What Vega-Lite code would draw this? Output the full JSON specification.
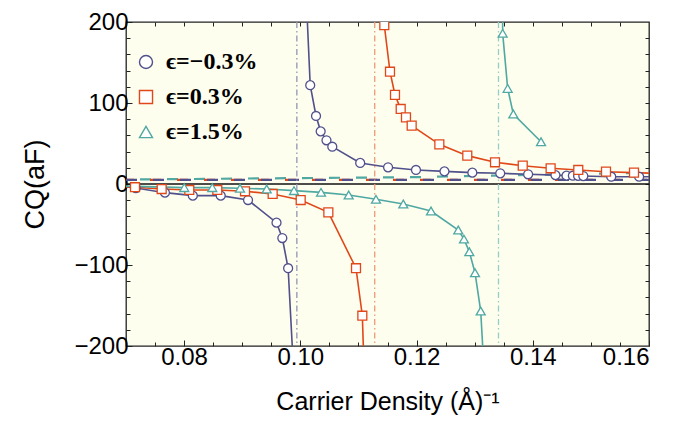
{
  "$schema": "https://vega.github.io/schema/vega-lite/v6.json",
  "width": 523,
  "height": 324,
  "autosize": {"type": "none"},
  "padding": {"left": 126, "top": 22, "right": 30, "bottom": 77},
  "background": "white",
  "config": {
    "view": {"fill": "#FEFEEE", "stroke": "#222222", "strokeWidth": 1.3},
    "axis": {
      "labelFont": "Liberation Sans", "titleFont": "Liberation Sans",
      "labelFontSize": 24, "titleFontSize": 24, "labelColor": "black", "titleColor": "black",
      "titleFontWeight": "normal", "domain": false, "grid": false,
      "tickColor": "#222222", "tickWidth": 1
    },
    "legend": {
      "labelFont": "Liberation Serif", "labelFontSize": 24, "labelFontWeight": "bold", "labelColor": "black",
      "symbolSize": 170, "symbolStrokeWidth": 1.4, "symbolFillColor": "white",
      "rowPadding": 11, "labelOffset": 8,
      "titleFontSize": 10, "titlePadding": 10
    }
  },
  "datasets": {
    "curves": [
      {"series": "ϵ=−0.3%", "branch": "pu", "x": 0.1009, "y": 250},
      {"series": "ϵ=−0.3%", "branch": "pu", "x": 0.1017, "y": 122},
      {"series": "ϵ=−0.3%", "branch": "pu", "x": 0.1027, "y": 84},
      {"series": "ϵ=−0.3%", "branch": "pu", "x": 0.1035, "y": 65},
      {"series": "ϵ=−0.3%", "branch": "pu", "x": 0.1045, "y": 54},
      {"series": "ϵ=−0.3%", "branch": "pu", "x": 0.1055, "y": 46},
      {"series": "ϵ=−0.3%", "branch": "pu", "x": 0.1103, "y": 26},
      {"series": "ϵ=−0.3%", "branch": "pu", "x": 0.1151, "y": 20.6},
      {"series": "ϵ=−0.3%", "branch": "pu", "x": 0.1199, "y": 17.3},
      {"series": "ϵ=−0.3%", "branch": "pu", "x": 0.1248, "y": 15.6},
      {"series": "ϵ=−0.3%", "branch": "pu", "x": 0.1296, "y": 14},
      {"series": "ϵ=−0.3%", "branch": "pu", "x": 0.1344, "y": 13.2},
      {"series": "ϵ=−0.3%", "branch": "pu", "x": 0.1392, "y": 12},
      {"series": "ϵ=−0.3%", "branch": "pu", "x": 0.1439, "y": 11},
      {"series": "ϵ=−0.3%", "branch": "pu", "x": 0.1458, "y": 10.3},
      {"series": "ϵ=−0.3%", "branch": "pu", "x": 0.1469, "y": 10.2},
      {"series": "ϵ=−0.3%", "branch": "pu", "x": 0.1478, "y": 10},
      {"series": "ϵ=−0.3%", "branch": "pu", "x": 0.1487, "y": 9.8},
      {"series": "ϵ=−0.3%", "branch": "pu", "x": 0.1535, "y": 9},
      {"series": "ϵ=−0.3%", "branch": "pu", "x": 0.1583, "y": 9},
      {"series": "ϵ=−0.3%", "branch": "pu", "x": 0.1631, "y": 8.6},
      {"series": "ϵ=−0.3%", "branch": "pl", "x": 0.0669, "y": -1},
      {"series": "ϵ=−0.3%", "branch": "pl", "x": 0.0717, "y": -5},
      {"series": "ϵ=−0.3%", "branch": "pl", "x": 0.0767, "y": -10.7},
      {"series": "ϵ=−0.3%", "branch": "pl", "x": 0.0815, "y": -14.4},
      {"series": "ϵ=−0.3%", "branch": "pl", "x": 0.0863, "y": -14.4},
      {"series": "ϵ=−0.3%", "branch": "pl", "x": 0.0910, "y": -19.8},
      {"series": "ϵ=−0.3%", "branch": "pl", "x": 0.0959, "y": -47.7},
      {"series": "ϵ=−0.3%", "branch": "pl", "x": 0.0969, "y": -66.7},
      {"series": "ϵ=−0.3%", "branch": "pl", "x": 0.0979, "y": -104},
      {"series": "ϵ=−0.3%", "branch": "pl", "x": 0.0992, "y": -280},
      {"series": "ϵ=0.3%", "branch": "ou", "x": 0.1136, "y": 260},
      {"series": "ϵ=0.3%", "branch": "ou", "x": 0.11445, "y": 196},
      {"series": "ϵ=0.3%", "branch": "ou", "x": 0.11543, "y": 138.6},
      {"series": "ϵ=0.3%", "branch": "ou", "x": 0.11629, "y": 110},
      {"series": "ϵ=0.3%", "branch": "ou", "x": 0.11727, "y": 92.6},
      {"series": "ϵ=0.3%", "branch": "ou", "x": 0.11818, "y": 82.3},
      {"series": "ϵ=0.3%", "branch": "ou", "x": 0.11916, "y": 72},
      {"series": "ϵ=0.3%", "branch": "ou", "x": 0.12392, "y": 49},
      {"series": "ϵ=0.3%", "branch": "ou", "x": 0.12873, "y": 35},
      {"series": "ϵ=0.3%", "branch": "ou", "x": 0.1335, "y": 26.8},
      {"series": "ϵ=0.3%", "branch": "ou", "x": 0.13827, "y": 22.6},
      {"series": "ϵ=0.3%", "branch": "ou", "x": 0.14307, "y": 19.4},
      {"series": "ϵ=0.3%", "branch": "ou", "x": 0.14783, "y": 17.3},
      {"series": "ϵ=0.3%", "branch": "ou", "x": 0.1526, "y": 15.2},
      {"series": "ϵ=0.3%", "branch": "ou", "x": 0.15742, "y": 14},
      {"series": "ϵ=0.3%", "branch": "ou", "x": 0.1622, "y": 13},
      {"series": "ϵ=0.3%", "branch": "ol", "x": 0.0668, "y": -2},
      {"series": "ϵ=0.3%", "branch": "ol", "x": 0.07155, "y": -4},
      {"series": "ϵ=0.3%", "branch": "ol", "x": 0.07614, "y": -6.2},
      {"series": "ϵ=0.3%", "branch": "ol", "x": 0.08089, "y": -7.4},
      {"series": "ϵ=0.3%", "branch": "ol", "x": 0.08571, "y": -7.4},
      {"series": "ϵ=0.3%", "branch": "ol", "x": 0.09048, "y": -9},
      {"series": "ϵ=0.3%", "branch": "ol", "x": 0.09524, "y": -12.3},
      {"series": "ϵ=0.3%", "branch": "ol", "x": 0.10006, "y": -19.8},
      {"series": "ϵ=0.3%", "branch": "ol", "x": 0.10482, "y": -35},
      {"series": "ϵ=0.3%", "branch": "ol", "x": 0.10958, "y": -104},
      {"series": "ϵ=0.3%", "branch": "ol", "x": 0.11067, "y": -162.6},
      {"series": "ϵ=0.3%", "branch": "ol", "x": 0.1112, "y": -280},
      {"series": "ϵ=1.5%", "branch": "tu", "x": 0.1348, "y": 260},
      {"series": "ϵ=1.5%", "branch": "tu", "x": 0.13482, "y": 186},
      {"series": "ϵ=1.5%", "branch": "tu", "x": 0.13568, "y": 118},
      {"series": "ϵ=1.5%", "branch": "tu", "x": 0.13665, "y": 86.4},
      {"series": "ϵ=1.5%", "branch": "tu", "x": 0.14142, "y": 52.2},
      {"series": "ϵ=1.5%", "branch": "tl", "x": 0.0668, "y": -2},
      {"series": "ϵ=1.5%", "branch": "tl", "x": 0.08003, "y": -4.5},
      {"series": "ϵ=1.5%", "branch": "tl", "x": 0.08485, "y": -4.5},
      {"series": "ϵ=1.5%", "branch": "tl", "x": 0.08962, "y": -5.3},
      {"series": "ϵ=1.5%", "branch": "tl", "x": 0.09421, "y": -6.2},
      {"series": "ϵ=1.5%", "branch": "tl", "x": 0.09891, "y": -8.2},
      {"series": "ϵ=1.5%", "branch": "tl", "x": 0.10356, "y": -10.3},
      {"series": "ϵ=1.5%", "branch": "tl", "x": 0.10832, "y": -13.6},
      {"series": "ϵ=1.5%", "branch": "tl", "x": 0.11302, "y": -18.9},
      {"series": "ϵ=1.5%", "branch": "tl", "x": 0.11772, "y": -24.7},
      {"series": "ϵ=1.5%", "branch": "tl", "x": 0.12249, "y": -33.3},
      {"series": "ϵ=1.5%", "branch": "tl", "x": 0.12718, "y": -56.8},
      {"series": "ϵ=1.5%", "branch": "tl", "x": 0.12816, "y": -68},
      {"series": "ϵ=1.5%", "branch": "tl", "x": 0.12908, "y": -83.6},
      {"series": "ϵ=1.5%", "branch": "tl", "x": 0.13006, "y": -109.5},
      {"series": "ϵ=1.5%", "branch": "tl", "x": 0.13104, "y": -156.8},
      {"series": "ϵ=1.5%", "branch": "tl", "x": 0.1320, "y": -280}
    ],
    "refs": [
      {"line": "zero", "x": 0.07, "y": 0},
      {"line": "zero", "x": 0.16, "y": 0},
      {"line": "teal", "x": 0.07, "y": 5.5},
      {"line": "teal", "x": 0.12, "y": 8.5},
      {"line": "teal", "x": 0.16, "y": 14},
      {"line": "orange", "x": 0.07, "y": 5},
      {"line": "orange", "x": 0.16, "y": 5},
      {"line": "purple", "x": 0.07, "y": 5},
      {"line": "purple", "x": 0.16, "y": 5}
    ],
    "vlines": [
      {"line": "purple", "xc": 0.0994},
      {"line": "orange", "xc": 0.1128},
      {"line": "teal", "xc": 0.1341}
    ]
  },
  "layer": [
    {
      "data": {"name": "refs"},
      "transform": [{"filter": "datum.line === 'zero'"}],
      "mark": {"type": "line", "color": "#111111", "strokeWidth": 1.3},
      "encoding": {
        "x": {"field": "x", "type": "quantitative",
          "scale": {"domain": [0.07, 0.16], "nice": false, "zero": false},
          "axis": {"orient": "bottom", "values": [0.08, 0.1, 0.12, 0.14, 0.16], "format": ".2f",
            "tickSize": -6, "labelPadding": 5, "title": "Carrier Density (Å)⁻¹", "titleFontSize": 25, "titlePadding": 20}},
        "y": {"field": "y", "type": "quantitative",
          "scale": {"domain": [-200, 200], "nice": false, "zero": false},
          "axis": {"orient": "left", "values": [-200, -100, 0, 100, 200],
            "tickSize": -6, "labelPadding": 4, "title": "CQ(aF)", "titleFontSize": 27, "titlePadding": 24}}
      }
    },
    {
      "data": {"name": "refs"},
      "transform": [{"filter": "datum.line === 'teal'"}],
      "mark": {"type": "line", "color": "#4FA8A2", "strokeWidth": 2.2, "strokeDash": [11, 16], "strokeDashOffset": 13},
      "encoding": {
        "x": {"field": "x", "type": "quantitative",
          "axis": {"orient": "bottom", "values": [0.075, 0.085, 0.09, 0.095, 0.105, 0.11, 0.115, 0.125, 0.13, 0.135, 0.145, 0.15, 0.155],
            "labels": false, "tickSize": -4, "title": null}},
        "y": {"field": "y", "type": "quantitative",
          "axis": {"orient": "left", "values": [-180, -160, -140, -120, -80, -60, -40, -20, 20, 40, 60, 80, 120, 140, 160, 180],
            "labels": false, "tickSize": -4, "title": null}}
      }
    },
    {
      "data": {"name": "refs"},
      "transform": [{"filter": "datum.line === 'orange'"}],
      "mark": {"type": "line", "color": "#E0481A", "strokeWidth": 2.2, "strokeDash": [11, 16], "strokeDashOffset": 3},
      "encoding": {
        "x": {"field": "x", "type": "quantitative",
          "axis": {"orient": "top", "values": [0.075, 0.08, 0.085, 0.09, 0.095, 0.1, 0.105, 0.11, 0.115, 0.12, 0.125, 0.13, 0.135, 0.14, 0.145, 0.15, 0.155],
            "labels": false, "tickSize": -4, "title": null}},
        "y": {"field": "y", "type": "quantitative",
          "axis": {"orient": "right", "values": [-180, -160, -140, -120, -100, -80, -60, -40, -20, 0, 20, 40, 60, 80, 100, 120, 140, 160, 180],
            "labels": false, "tickSize": -4, "title": null}}
      }
    },
    {
      "data": {"name": "refs"},
      "transform": [{"filter": "datum.line === 'purple'"}],
      "mark": {"type": "line", "color": "#50508C", "strokeWidth": 2.2, "strokeDash": [11, 16], "strokeDashOffset": 0},
      "encoding": {
        "x": {"field": "x", "type": "quantitative", "axis": null},
        "y": {"field": "y", "type": "quantitative", "axis": null}
      }
    },
    {
      "data": {"name": "vlines"},
      "transform": [{"filter": "datum.line === 'purple'"}],
      "mark": {"type": "rule", "color": "#9494B6", "strokeWidth": 1.3, "strokeDash": [6, 3, 1.5, 3]},
      "encoding": {"x": {"field": "xc", "type": "quantitative", "axis": null}}
    },
    {
      "data": {"name": "vlines"},
      "transform": [{"filter": "datum.line === 'orange'"}],
      "mark": {"type": "rule", "color": "#EC9A78", "strokeWidth": 1.3, "strokeDash": [6, 3, 1.5, 3]},
      "encoding": {"x": {"field": "xc", "type": "quantitative", "axis": null}}
    },
    {
      "data": {"name": "vlines"},
      "transform": [{"filter": "datum.line === 'teal'"}],
      "mark": {"type": "rule", "color": "#94CEC8", "strokeWidth": 1.3, "strokeDash": [6, 3, 1.5, 3]},
      "encoding": {"x": {"field": "xc", "type": "quantitative", "axis": null}}
    },
    {
      "data": {"name": "curves"},
      "mark": {"type": "line", "strokeWidth": 1.6, "clip": true},
      "encoding": {
        "x": {"field": "x", "type": "quantitative", "axis": null},
        "y": {"field": "y", "type": "quantitative", "axis": null},
        "detail": {"field": "branch"},
        "color": {"field": "series", "type": "nominal",
          "scale": {"domain": ["ϵ=−0.3%", "ϵ=0.3%", "ϵ=1.5%"], "range": ["#50508C", "#E0481A", "#4FA8A2"]}}
      }
    },
    {
      "data": {"name": "curves"},
      "mark": {"type": "point", "filled": false, "fill": "white", "fillOpacity": 1, "opacity": 1, "strokeWidth": 1.3, "size": 80, "clip": true},
      "encoding": {
        "x": {"field": "x", "type": "quantitative", "axis": null},
        "y": {"field": "y", "type": "quantitative", "axis": null},
        "color": {"field": "series", "type": "nominal",
          "legend": {"title": " ", "orient": "top-left", "offset": 8,
            "encode": {"symbols": {"update": {"size": {"value": 170}, "opacity": {"value": 1}, "fill": {"value": "white"}, "strokeWidth": {"value": 1.4}}}}}},
        "shape": {"field": "series", "type": "nominal",
          "scale": {"domain": ["ϵ=−0.3%", "ϵ=0.3%", "ϵ=1.5%"], "range": ["circle", "square", "triangle-up"]},
          "legend": {"title": " ", "orient": "top-left", "offset": 8,
            "encode": {"symbols": {"update": {"size": {"value": 170}, "opacity": {"value": 1}, "fill": {"value": "white"}, "strokeWidth": {"value": 1.4}}}}}}
      }
    }
  ],
  "resolve": {"axis": {"x": "independent", "y": "independent"}}
}
